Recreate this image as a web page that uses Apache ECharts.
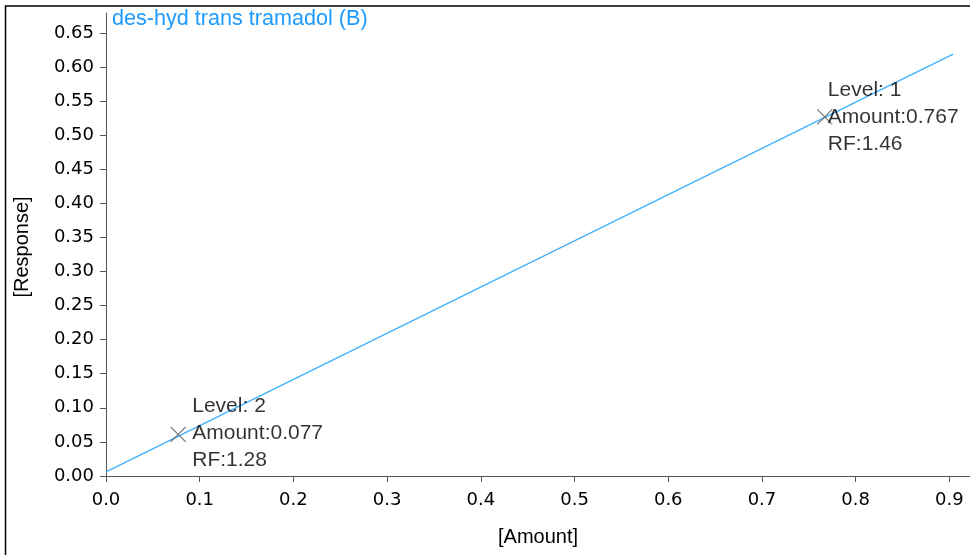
<!DOCTYPE html>
<html>
<head>
<meta charset="utf-8">
<script src="https://cdn.jsdelivr.net/npm/echarts@6/dist/echarts.min.js"></script>
<style>
html,body{margin:0;padding:0;background:#fff;}
#chart{width:970px;height:555px;}
</style>
</head>
<body>
<div id="chart"></div>
<script>
// ---- data ----
var levels = ['1', '2'];
var amounts = [0.767, 0.077];
var responses = [0.527, 0.061];
var rfValues = ['1.46', '1.28'];
var curveX = [0, 0.904];
var curveY = [0.006, 0.619];
var xTicks = [0.0, 0.1, 0.2, 0.3, 0.4, 0.5, 0.6, 0.7, 0.8, 0.9];
var yTicks = [0.00, 0.05, 0.10, 0.15, 0.20, 0.25, 0.30, 0.35, 0.40, 0.45, 0.50, 0.55, 0.60, 0.65];
var titleText = 'des-hyd trans tramadol (B)';
var xName = '[Amount]';
var yName = '[Response]';

// ---- styling ----
var labelOffsets = [[-5, 0], [6, -1]];
var axisColor = '#555';
var tickFont = 'DejaVu Sans';
var textFont = 'Liberation Sans';

var chart = echarts.init(document.getElementById('chart'), null, {renderer: 'canvas'});

var curveData = curveX.map(function (x, i) { return [x, curveY[i]]; });
var pointData = amounts.map(function (a, i) {
  return {
    value: [a, responses[i]],
    label: {
      offset: labelOffsets[i],
      formatter: 'Level: ' + levels[i] + '\nAmount:' + a + '\nRF:' + rfValues[i]
    }
  };
});

var option = {
  animation: false,
  backgroundColor: '#fff',
  title: {
    text: titleText,
    left: 112, top: 8, padding: 0,
    textStyle: {color: '#1e9bff', fontFamily: textFont, fontSize: 21.6, fontWeight: 'normal'}
  },
  grid: {left: 106, right: 0, top: 13, bottom: 74, containLabel: false, outerBoundsMode: 'none'},
  xAxis: {
    type: 'value', min: 0, max: 0.922,
    name: xName, nameLocation: 'middle', nameGap: 46,
    nameTextStyle: {color: '#000', fontFamily: textFont, fontSize: 20},
    axisLine: {show: true, lineStyle: {color: axisColor, width: 1}},
    axisTick: {show: true, inside: false, length: 6, lineStyle: {color: axisColor}, customValues: xTicks},
    axisLabel: {color: '#000', fontFamily: tickFont, fontSize: 18, margin: 10, customValues: xTicks,
      formatter: function (v) { return v.toFixed(1); }},
    splitLine: {show: false}
  },
  yAxis: {
    type: 'value', min: -0.0074, max: 0.6794,
    name: yName, nameLocation: 'middle', nameGap: 74, nameRotate: 90,
    nameTextStyle: {color: '#000', fontFamily: textFont, fontSize: 20},
    axisLine: {show: true, lineStyle: {color: axisColor, width: 1}},
    axisTick: {show: true, inside: false, length: 6, lineStyle: {color: axisColor}, customValues: yTicks},
    axisLabel: {color: '#000', fontFamily: tickFont, fontSize: 18, margin: 12, customValues: yTicks,
      formatter: function (v) { return v.toFixed(2); }},
    splitLine: {show: false}
  },
  series: [
    {
      type: 'line',
      data: curveData,
      showSymbol: false,
      symbol: 'none',
      lineStyle: {color: '#3fb0ff', width: 1.3},
      silent: true,
      z: 2
    },
    {
      type: 'scatter',
      data: pointData,
      symbol: 'path://M0,0L10,10M10,0L0,10',
      symbolSize: 15,
      itemStyle: {color: 'rgba(0,0,0,0)', borderColor: '#555', borderWidth: 1.2},
      label: {
        show: true, position: 'right', distance: 0,
        color: '#000', fontFamily: textFont, fontSize: 21, lineHeight: 27,
        align: 'left', verticalAlign: 'middle'
      },
      z: 3
    }
  ],
  graphic: [
    {
      type: 'polyline',
      shape: {points: [[5.5, 555], [5.5, 6], [970, 6]]},
      style: {stroke: '#000', lineWidth: 1.5, fill: null},
      silent: true
    }
  ]
};
chart.setOption(option);
</script>
</body>
</html>
